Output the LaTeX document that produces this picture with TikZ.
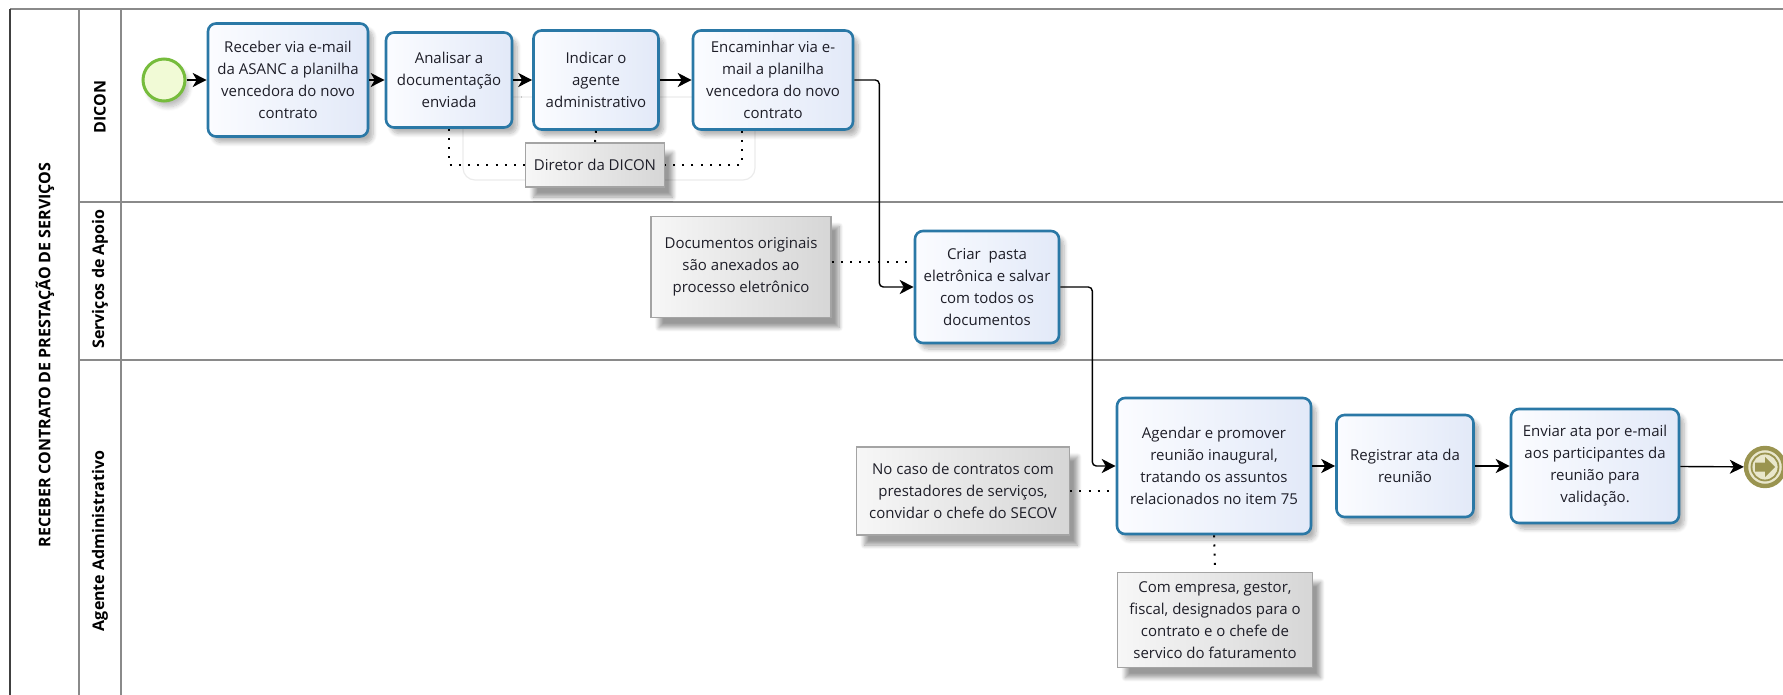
\documentclass[tikz,border=0pt]{standalone}
\usepackage{fontspec}
\setmainfont{Open Sans}
\usetikzlibrary{arrows.meta,calc,shadows.blur}
\definecolor{taskline}{HTML}{2A78A6}
\definecolor{tasktop}{HTML}{FBFCFF}
\definecolor{taskbot}{HTML}{E2E9F8}
\definecolor{notetop}{HTML}{F7F7F7}
\definecolor{notebot}{HTML}{D6D6D6}
\definecolor{noteline}{HTML}{A4A4A4}
\definecolor{startline}{HTML}{76BC3C}
\definecolor{startfill}{HTML}{F1FAD6}
\definecolor{endol}{HTML}{9A9450}
\definecolor{endfill}{HTML}{E9E7CC}
\definecolor{laneline}{HTML}{8A8A8A}
\definecolor{txt}{HTML}{1E1E28}

\begin{document}
\begin{tikzpicture}[x=0.5pt,y=-0.5pt,
  font=\fontsize{7.5}{11}\selectfont, text=txt,
  task/.style={draw=taskline, line width=1.3pt, rounded corners=4pt,
    left color=tasktop, right color=taskbot, align=center, inner sep=0pt,
    blur shadow={shadow xshift=2.5pt,shadow yshift=-3pt,shadow blur steps=8,shadow opacity=30}},
  note/.style={draw=noteline, line width=0.6pt, left color=notetop, right color=notebot,
    align=center, inner sep=0pt,
    blur shadow={shadow xshift=4pt,shadow yshift=-5pt,shadow blur steps=8,shadow opacity=40}},
  flow/.style={-{Stealth[length=7pt,width=7pt,inset=2pt]}, line width=0.7pt, rounded corners=2pt},
  assoc/.style={line width=1pt, dash pattern=on 1pt off 3.6pt},
  lane/.style={draw=laneline, line width=1pt},
  lanetitle/.style={rotate=90, font=\fontsize{8}{9}\selectfont\bfseries, text=black}
]
\useasboundingbox (0,0) rectangle (1783,695);

% pool and lanes
\draw[lane] (10,9) -- (1783,9);
\draw[lane] (79,9) -- (79,695);
\draw[lane] (121,9) -- (121,695);
\draw[lane] (79,202) -- (1783,202);
\draw[lane] (79,360) -- (1783,360);
\draw[draw=black!75, line width=1pt] (10,9) -- (10,695);

\node[lanetitle] (pool) at (45,355) {RECEBER CONTRATO DE PRESTAÇÃO DE SERVIÇOS};
\node[lanetitle] (l1) at (100,107) {DICON};
\node[lanetitle] (l2) at (100,279) {Serviços de Apoio};
\node[lanetitle] (l3) at (100,541) {Agente Administrativo};

% faint group outline
\draw[black!8, line width=0.6pt, rounded corners=6pt] (463,97) rectangle (755,180);

% events
\node[circle, draw=startline, line width=1.5pt, fill=startfill, minimum size=21pt, inner sep=0pt,
  blur shadow={shadow xshift=2pt,shadow yshift=-3pt,shadow blur steps=8,shadow opacity=25}] (start) at (164,80) {};
\node[circle, draw=endol, line width=2.2pt, fill=endfill, minimum size=19pt, inner sep=0pt] (end) at (1765,467) {};
\draw[endol, line width=0.9pt] (end.center) circle[radius=13.5];
\fill[endol] ($(end.center)+(-10,-4.5)$) -- ++(10,0) -- ++(0,-5.5) -- ++(10,10) -- ++(-10,10) -- ++(0,-5.5) -- ++(-10,0) -- cycle;

% tasks
\node[task, minimum width=80pt, minimum height=56.5pt] (t1) at (288,80)
  {Receber via e-mail\\da ASANC a planilha\\vencedora do novo\\contrato};
\node[task, minimum width=63pt, minimum height=47.5pt] (t2) at (449,80)
  {Analisar a\\documentação\\enviada};
\node[task, minimum width=62.5pt, minimum height=49.5pt] (t3) at (596,80)
  {Indicar o\\agente\\administrativo};
\node[task, minimum width=80pt, minimum height=49.5pt] (t4) at (773,80)
  {Encaminhar via e-\\mail a planilha\\vencedora do novo\\contrato};
\node[task, minimum width=72pt, minimum height=56pt] (t5) at (987,287)
  {Criar\ \ pasta\\eletrônica e salvar\\com todos os\\documentos};
\node[task, minimum width=97pt, minimum height=68pt] (t6) at (1214,466)
  {Agendar e promover\\reunião inaugural,\\tratando os assuntos\\relacionados no item 75};
\node[task, minimum width=68.5pt, minimum height=51pt] (t7) at (1405,466)
  {Registrar ata da\\reunião};
\node[task, minimum width=84pt, minimum height=57pt] (t8) at (1595,466)
  {Enviar ata por e-mail\\aos participantes da\\reunião para\\validação.};

% annotations
\node[note, minimum width=69.5pt, minimum height=22pt] (dir) at (595,165) {Diretor da DICON};
\node[note, minimum width=90pt, minimum height=50.5pt] (doc) at (741,267)
  {Documentos originais\\são anexados ao\\processo eletrônico};
\node[note, minimum width=106.5pt, minimum height=44pt] (nc) at (963,491)
  {No caso de contratos com\\prestadores de serviços,\\convidar o chefe do SECOV};
\node[note, minimum width=97.5pt, minimum height=47.5pt] (com) at (1215,620)
  {Com empresa, gestor,\\fiscal, designados para o\\contrato e o chefe de\\servico do faturamento};

% associations
\coordinate (t4a) at ($(t4.south)+(-31,0)$);
\draw[assoc] (t2.south) |- (dir.west);
\draw[assoc] (t3.south) -- (dir.north);
\draw[assoc] (t4a) |- (dir.east);
\draw[assoc] ([yshift=2.5pt]doc.east) -- ([yshift=2.5pt]doc.east -| t5.west);
\draw[assoc] (nc.east) -- (nc.east -| t6.west);
\draw[assoc] (t6.south) -- (com.north);

% sequence flows
\draw[flow] (start) -- (t1);
\draw[flow] (t1) -- (t2);
\draw[flow] (t2) -- (t3);
\draw[flow] (t3) -- (t4);
\draw[flow] (t4.east) -- ++(25,0) |- (t5.west);
\draw[flow] (t5.east) -- ++(32,0) |- (t6.west);
\draw[flow] (t6) -- (t7);
\draw[flow] (t7) -- (t8);
\draw[flow] (t8) -- (end);
\end{tikzpicture}
\end{document}
